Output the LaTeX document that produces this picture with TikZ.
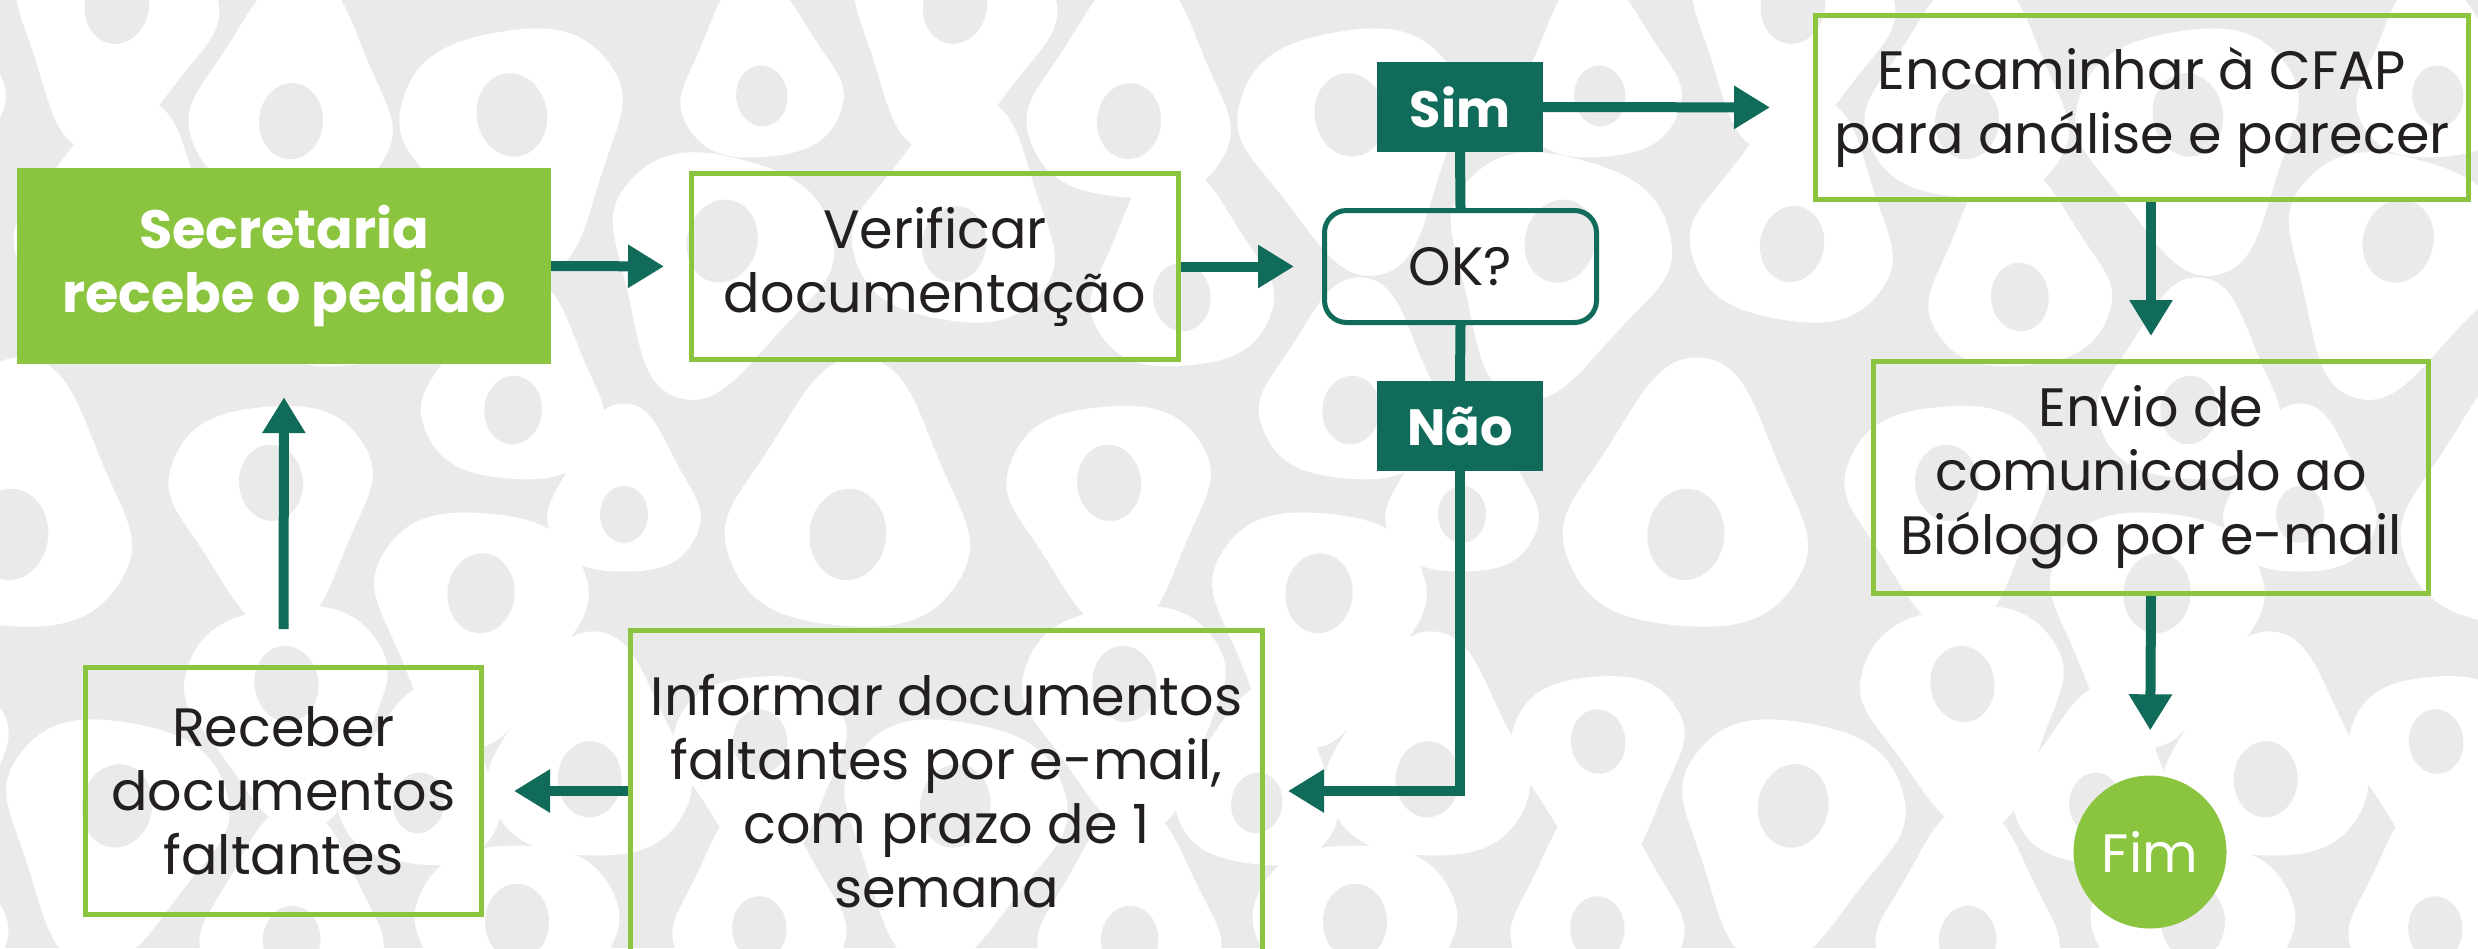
\documentclass[tikz,border=0pt]{standalone}
\usepackage{fontspec}
\setmainfont{Poppins}
\usetikzlibrary{arrows.meta}
\definecolor{lgreen}{HTML}{8BC53F}
\definecolor{dgreen}{HTML}{116B5A}
\definecolor{bggray}{HTML}{E9EAE9}
\definecolor{txt}{HTML}{231F20}
\begin{document}
\begin{tikzpicture}[x=1pt,y=-1pt,
  txtfont/.style={font=\fontsize{54}{64}\selectfont},
  box/.style={draw=lgreen,line width=5pt,inner sep=0pt,align=center,text=txt,txtfont},
  flow/.style={draw=dgreen,line width=10pt,-{Triangle[length=36pt,width=41pt]}},
  plainline/.style={draw=dgreen,line width=10pt},
  lbl/.style={fill=dgreen,text=white,inner sep=0pt,minimum width=166pt,minimum height=90pt,font=\fontsize{51}{64}\selectfont\bfseries},
]
\useasboundingbox (0,0) rectangle (2478,948);
\begin{scope}
\clip (0,0) rectangle (2478,948);
\fill[bggray] (0,0) rectangle (2478,948);
\foreach \k in {-838,0,838,1676,2514}{
  \foreach \x/\y/\a/\s in {115/17/-10/1, 292/110/175/1, 514/127/10/1.1, 761/87/185/0.8,
      118/233/170/1, 719/253/-15/1.1, 343/287/185/0.9, 514/400/175/0.9,
      272/494/5/1, 624/506/180/0.75, 480/605/-5/1.05, 11/521/175/1.2,
      288/695/8/1, 590/768/178/1, 115/818/-10/1.1, 761/751/5/0.85,
      759/919/182/0.85, 292/930/178/0.9, 517/933/0/1, 420/794/172/0.8}{
    \begin{scope}[shift={(\x+\k,\y)},rotate=\a,scale=\s,yscale=1.12]
      \fill[white] plot[smooth cycle,tension=0.9] coordinates
        {(0,122) (72,48) (95,-38) (0,-78) (-95,-38) (-72,48)};
      \fill[bggray] (0,-10) ellipse[x radius=32,y radius=34];
    \end{scope}
  }
}
\end{scope}

\node[fill=lgreen,minimum width=534pt,minimum height=196pt,inner sep=0pt,text=white,align=center,font=\fontsize{54}{64}\selectfont\bfseries] (sec) at (284,266) {Secretaria\\recebe o pedido};
\node[box,minimum width=487pt,minimum height=186pt] (ver) at (935,266.5) {Verificar\\documentação};
\node[draw=dgreen,line width=5pt,rounded corners=22pt,minimum width=272pt,minimum height=112pt,inner sep=0pt,text=txt,txtfont] (ok) at (1460.5,266.5) {OK?};
\node[lbl] (sim) at (1460,107) {Sim};
\node[lbl] (nao) at (1460,426) {Não};
\node[box,minimum width=653pt,minimum height=184pt] (enc) at (2142,107.5) {Encaminhar à CFAP\\para análise e parecer};
\node[box,minimum width=555pt,minimum height=232pt] (env) at (2151,477.5) {Envio de\\comunicado ao\\Biólogo por e-mail};
\node[circle,fill=lgreen,minimum size=153pt,inner sep=0pt,text=white,txtfont] (fim) at (2150,852) {Fim};
\node[box,minimum width=632pt,minimum height=322pt] (inf) at (946.5,791) {Informar documentos\\faltantes por e-mail,\\com prazo de 1\\semana};
\node[box,minimum width=396pt,minimum height=247pt] (rec) at (283.5,791) {Receber\\documentos\\faltantes};

\draw[flow,shorten >=25pt] (sec.east) -- (ver.west);
\draw[flow,shorten >=28pt] (ver.east) -- (ok.west);
\draw[plainline] (sim.south) -- (ok.north);
\draw[plainline] (ok.south) -- (nao.north);
\draw[flow,shorten >=43pt] (sim.east) -- (enc.west);
\draw[flow,shorten >=23pt] (env.north |- enc.south) -- (env.north);
\draw[flow,shorten >=45pt] (env.south) -- (fim.north);
\draw[flow,shorten >=23pt] (nao.south) |- (inf.east);
\draw[flow,shorten >=30pt] (inf.west) -- (rec.east);
\draw[flow,shorten <=36pt,shorten >=33pt] (rec.north) -- (sec.south);
\end{tikzpicture}
\end{document}
